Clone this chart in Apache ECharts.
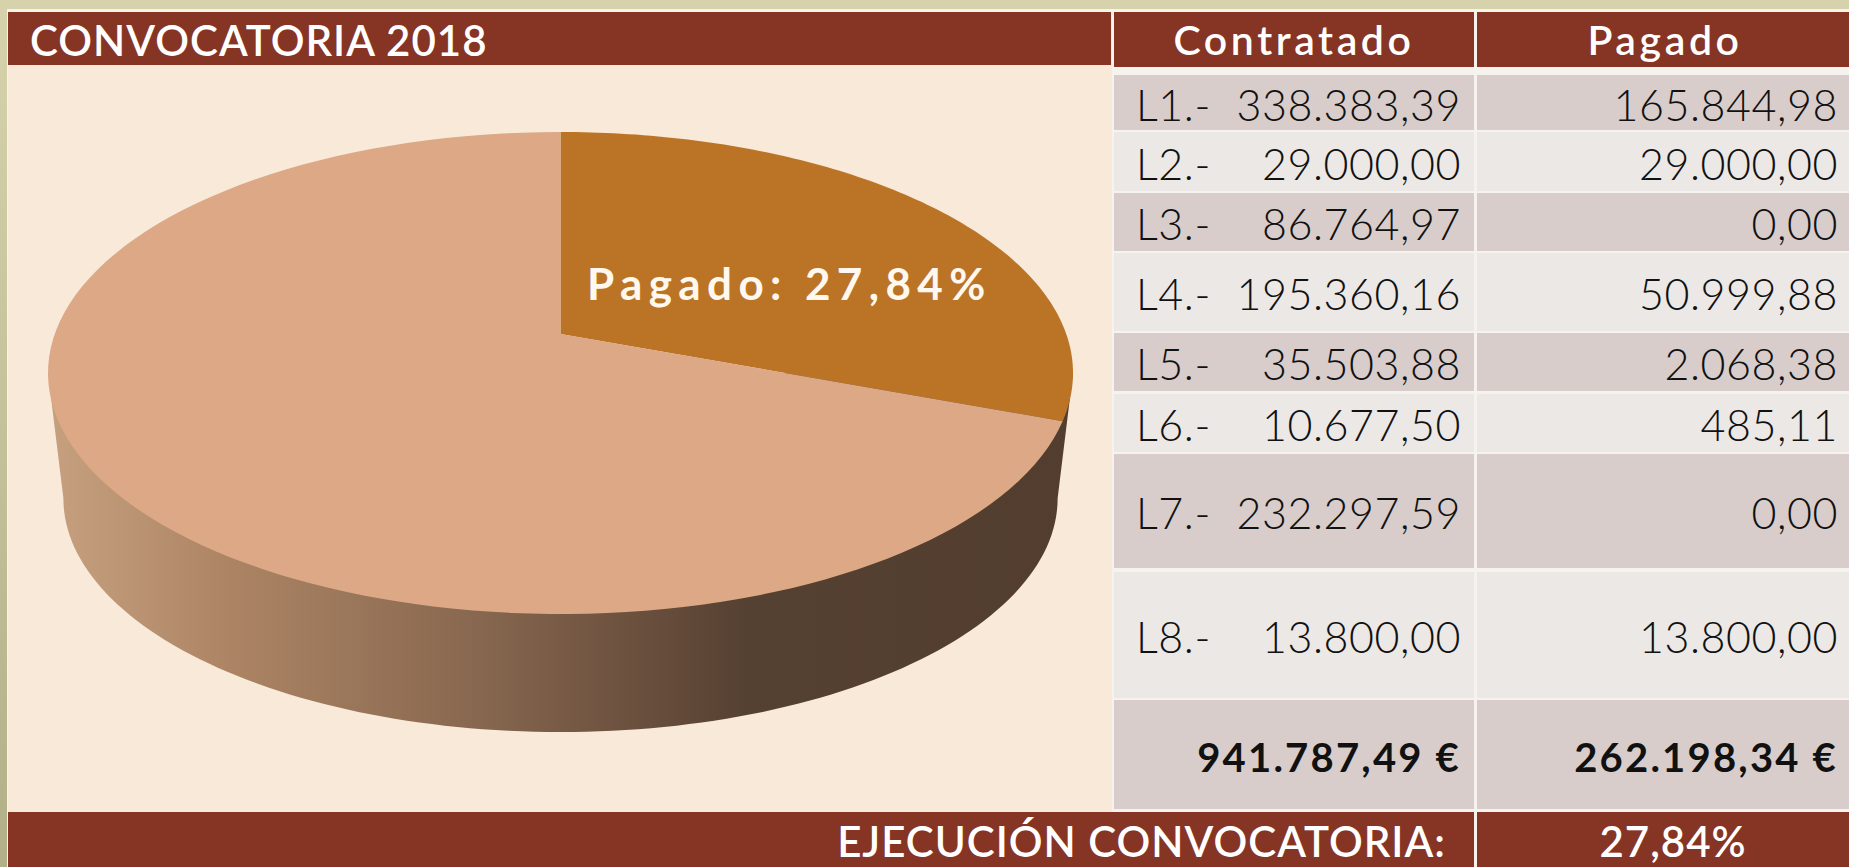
<!DOCTYPE html>
<html>
<head>
<meta charset="utf-8">
<title>Convocatoria 2018</title>
<script src="https://cdn.jsdelivr.net/npm/echarts@6/dist/echarts.min.js"></script>
<style>
  html, body { margin: 0; padding: 0; overflow: hidden; background: #d2cfa6; }
  #main { width: 1849px; height: 867px; }
  /* el svg de echarts deja usar letter-spacing; se elige por tamaño de fuente */
  #main text[style*="42px"] { letter-spacing: 1px; }
  #main text[style*="41px"] { letter-spacing: 3.6px; }
  #main text[style*="40px"] { letter-spacing: 2.2px; }
  #main text[style*="43px"] { letter-spacing: 0.55px; }
  #main text[style*="44px"] { letter-spacing: 6.4px; }
</style>
</head>
<body>
<div id="main"></div>
<script>
const titulo = "CONVOCATORIA 2018";
const columnas = ["Contratado", "Pagado"];
const lineas = ["L1.-", "L2.-", "L3.-", "L4.-", "L5.-", "L6.-", "L7.-", "L8.-"];
const contratado = [338383.39, 29000.0, 86764.97, 195360.16, 35503.88, 10677.5, 232297.59, 13800.0];
const pagado = [165844.98, 29000.0, 0.0, 50999.88, 2068.38, 485.11, 0.0, 13800.0];
const totalContratado = 941787.49;
const totalPagado = 262198.34;
const pieNames = ["Pagado", "Pendiente"];
const pieValues = [totalPagado, totalContratado - totalPagado];
const pieColors = ["#bb7426", "#dca885"];
const etiquetaPie = "Pagado: 27,84%";
const pieTexto = "EJECUCIÓN CONVOCATORIA:";
const ejecucion = "27,84%";

// alturas de las filas de la tabla (y inicial, y final)
const rowY = [[75, 130], [132, 191], [193, 251], [253, 331], [333, 391], [394, 452], [454, 568], [572, 698]];
const RED = "#863424";
const FONT = "Lato";

// 338383.39 -> 338.383,39
function fmt(v) {
  const p = v.toFixed(2).split(".");
  return p[0].replace(/\B(?=(\d{3})+$)/g, ".") + "," + p[1];
}

function rect(x, y, w, h, fill) {
  return { type: "rect", silent: true, z: 1, shape: { x: x, y: y, width: w, height: h }, style: { fill: fill } };
}
function txt(x, y, text, size, align, weight, fill, z) {
  return {
    type: "text", silent: true, z: z || 1, x: x, y: y,
    style: { text: text, fontSize: size, fontFamily: FONT, fontWeight: weight || "normal",
      fill: fill || "#111", align: align || "left", verticalAlign: "middle" }
  };
}

const graphics = [
  rect(0, 0, 1849, 867, new echarts.graphic.LinearGradient(0, 0, 0, 1, [
    { offset: 0, color: "#d6d3ac" }, { offset: 1, color: "#b1b088" }])),
  rect(7, 9, 1842, 858, "#f6f3ee"),
  rect(8, 12, 1104, 800, "#f8e9d9"),
  rect(8, 12, 1103, 53, RED),
  rect(1114, 12, 360, 55, RED),
  rect(1477, 12, 372, 55, RED),
  rect(8, 812, 1466, 55, RED),
  rect(1477, 812, 372, 55, RED),
  rect(1114, 700, 360, 109, "#d8cdcb"),
  rect(1477, 700, 372, 109, "#d8cdcb"),
  txt(30, 40, titulo, 42, "left", 600, "#fff"),
  txt(1294, 39, columnas[0], 41, "center", 600, "#fff"),
  txt(1665, 39, columnas[1], 41, "center", 600, "#fff"),
  txt(1446, 841, pieTexto, 42, "right", 600, "#fff"),
  txt(1673, 841, ejecucion, 42, "center", 600, "#fff"),
  txt(1461, 757, fmt(totalContratado) + " €", 40, "right", 700, "#111"),
  txt(1838, 757, fmt(totalPagado) + " €", 40, "right", 700, "#111"),
  txt(587, 283, etiquetaPie, 44, "left", 700, "#fff8ee", 100)
];
lineas.forEach(function (l, i) {
  const y0 = rowY[i][0], y1 = rowY[i][1], c = (y0 + y1) / 2;
  const col = i % 2 === 0 ? "#d8cdcb" : "#ece8e6";
  graphics.push(rect(1114, y0, 360, y1 - y0, col));
  graphics.push(rect(1477, y0, 372, y1 - y0, col));
  graphics.push(txt(1136, c + 1.5, l, 43, "left", 300));
  graphics.push(txt(1461, c + 1.5, fmt(contratado[i]), 43, "right", 300));
  graphics.push(txt(1838, c + 1.5, fmt(pagado[i]), 43, "right", 300));
});

const total = pieValues[0] + pieValues[1];
// el vertice queda por encima del centro de la elipse (perspectiva)
const APEX_Y = 0.162;
const STEPS = 120;

function renderSlice(params, api) {
  if (params.dataIndex === 0) return renderWall(params, api);
  const i = params.dataIndex - 1;
  let from = 0;
  for (let k = 0; k < i; k++) from += pieValues[k];
  const a0 = from / total * Math.PI * 2;
  const a1 = (from + pieValues[i]) / total * Math.PI * 2 * 1.013;
  const start = i === 0 ? 0 : a0 * 1.013;
  const end = i === 0 ? a1 : Math.PI * 2;
  const pts = [api.coord([0, APEX_Y])];
  for (let s = 0; s <= STEPS; s++) {
    const a = start + (end - start) * s / STEPS;
    pts.push(api.coord([Math.sin(a), Math.cos(a)]));
  }
  return { type: "polygon", shape: { points: pts }, style: { fill: pieColors[i] } };
}

// pared lateral de la tarta: media elipse inferior, algo mas pequeña
function renderWall(params, api) {
  const pts = [api.coord([-1, 0])];
  for (let s = 0; s <= STEPS; s++) {
    const a = Math.PI * s / STEPS;
    pts.push(api.coord([-Math.cos(a) * 0.97, -Math.sin(a) * 0.97 - 0.52]));
  }
  pts.push(api.coord([1, 0]));
  return {
    type: "polygon", shape: { points: pts },
    style: {
      fill: new echarts.graphic.LinearGradient(0, 0, 1, 0, [
        { offset: 0, color: "#c7a17f" },
        { offset: 0.18, color: "#ac8464" },
        { offset: 0.42, color: "#87674f" },
        { offset: 0.6, color: "#664c3b" },
        { offset: 0.68, color: "#554132" },
        { offset: 1, color: "#523d2e" }
      ])
    }
  };
}

const chart = echarts.init(document.getElementById("main"), null, { renderer: "svg" });
const option = {
  animation: false,
  graphic: { elements: graphics },
  grid: { left: 48, width: 1025, top: 132, height: 482 },
  xAxis: { type: "value", min: -1, max: 1, show: false },
  yAxis: { type: "value", min: -1, max: 1, show: false },
  series: [
    {
      type: "custom",
      coordinateSystem: "cartesian2d",
      clip: false,
      silent: true,
      renderItem: renderSlice,
      data: [[0, 0], [pieNames[0], pieValues[0]], [pieNames[1], pieValues[1]]],
      encode: { x: 0, y: 0 },
      z: 5
    }
  ]
};
chart.setOption(option);

window.addEventListener("resize", function () { chart.resize(); });
</script>
</body>
</html>
